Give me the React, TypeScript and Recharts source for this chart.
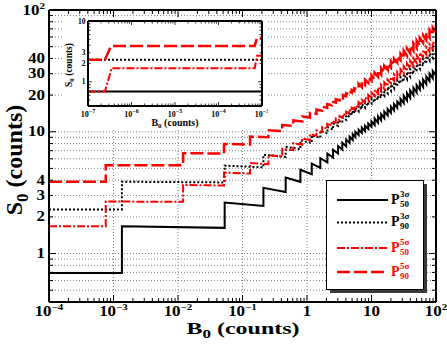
import React from 'react';
import { LineChart, Line, XAxis, YAxis, CartesianGrid, ReferenceLine } from 'recharts';

const SERIF = '"Liberation Serif", "Times New Roman", Times, serif';
const RED = '#ff0000';

// ---------------- main chart layout
const W = 447, H = 348;
const PL = 49, PR = 436, PT = 10, PB = 302;
const AX_B = 20, AX_L = 30, AX_T = 5, AX_R = 5;

// ---------------- main axis labels
const xDecades = [1e-4, 1e-3, 1e-2, 1e-1, 1, 10, 100];
const xTickBase = ['10', '10', '10', '10', '1', '10', '10'];
const xTickExp = ['\u22124', '\u22123', '\u22122', '\u22121', '', '', '2'];
const xGridValues = [1e-3, 1e-2, 1e-1, 1, 10];
const yLabelValues = [1, 2, 3, 4, 10, 20, 30, 40, 100];
const yLabelBase = ['1', '2', '3', '4', '10', '20', '30', '40', '10'];
const yLabelExp = ['', '', '', '', '', '', '', '', '2'];

// ---------------- inset axis labels
const ixDecades = [1e-7, 1e-6, 1e-5, 1e-4, 1e-3];
const ixTickExp = ['\u22127', '\u22126', '\u22125', '\u22124', '\u22123'];
const iyLabelValues = [1, 2, 3, 10];
const iyLabelText = ['1', '2', '3', '10'];

// ---------------- data: main chart (B0, S0 before step, S0 after step)
type Jump = [number, number, number];

const p50s3Start: [number, number] = [1e-4, 0.693];
const p50s3Jumps: Jump[] = [
  [0.00135, 0.692, 1.677], [0.0529, 1.625, 2.621], [0.211, 2.463, 3.461], [0.467, 3.205, 4.204],
  [0.79, 3.881, 4.88], [1.185, 4.485, 5.485], [1.61, 5.06, 6.06], [2.07, 5.599, 6.599],
  [2.54, 6.129, 7.129], [3.03, 6.638, 7.638], [3.53, 7.138, 8.138], [4.05, 7.618, 8.618],
  [4.58, 8.088, 9.088], [5.12, 8.548, 9.548], [5.62, 9.03, 9.98], [6.31, 9.41, 10.4],
  [7.08, 9.79, 10.82], [7.94, 10.12, 11.18], [8.91, 10.55, 11.66], [10.0, 11.02, 12.18],
  [11.2, 11.37, 12.83], [12.6, 11.89, 13.41], [14.1, 12.41, 13.99], [15.8, 12.97, 14.63],
  [17.8, 13.63, 15.37], [20.0, 14.29, 16.11], [22.4, 14.99, 16.91], [25.1, 15.7, 17.7],
  [28.2, 16.54, 18.66], [31.6, 17.16, 19.74], [35.5, 18.04, 20.76], [39.8, 18.97, 21.83],
  [44.7, 20.0, 23.0], [50.1, 21.02, 24.18], [56.2, 22.18, 25.52], [63.1, 23.34, 26.86],
  [70.8, 24.65, 28.36], [79.4, 26.04, 29.96], [89.1, 27.44, 31.57], [100, 29.02, 33.38],
];

const p90s3Start: [number, number] = [1e-4, 2.303];
const p90s3Jumps: Jump[] = [
  [0.00135, 2.302, 3.889], [0.0529, 3.837, 5.269], [0.211, 5.111, 6.47], [0.467, 6.214, 7.527],
  [0.79, 7.204, 8.485], [1.185, 8.09, 9.347], [1.61, 8.922, 10.161], [2.07, 9.701, 10.925],
  [2.54, 10.455, 11.666], [3.03, 11.176, 12.377], [3.53, 11.877, 13.068], [4.05, 12.548, 13.732],
  [4.58, 13.202, 14.378], [5.12, 13.838, 15.008], [5.62, 14.25, 15.75], [6.31, 14.73, 16.28],
  [7.08, 15.25, 16.85], [7.94, 15.77, 17.43], [8.91, 16.34, 18.06], [10.0, 17.05, 18.85],
  [11.2, 17.48, 19.72], [12.6, 18.28, 20.62], [14.1, 18.99, 21.41], [15.8, 19.83, 22.37],
  [17.8, 20.73, 23.37], [20.0, 21.67, 24.43], [22.4, 22.65, 25.55], [25.1, 23.69, 26.71],
  [28.2, 24.91, 28.09], [31.6, 25.76, 29.64], [35.5, 27.02, 31.08], [39.8, 28.32, 32.58],
  [44.7, 29.81, 34.29], [50.1, 31.29, 36.01], [56.2, 32.92, 37.88], [63.1, 34.6, 39.8],
  [70.8, 36.41, 41.89], [79.4, 38.41, 44.19], [89.1, 40.46, 46.55], [100, 42.69, 49.11],
];

const p50s5Start: [number, number] = [1e-4, 1.678];
const p50s5Jumps: Jump[] = [
  [0.000758, 1.677, 2.673], [0.012, 2.662, 3.66], [0.0517, 3.62, 4.619], [0.131, 4.54, 5.539],
  [0.252, 5.418, 6.418], [0.413, 6.257, 7.256], [0.613, 7.056, 8.056], [0.846, 7.823, 8.823],
  [1.11, 8.559, 9.559], [1.402, 9.267, 10.266], [1.717, 9.951, 10.951], [2.055, 10.613, 11.613],
  [2.417, 11.251, 12.251], [2.797, 11.871, 12.871], [3.193, 12.475, 13.475], [3.61, 13.058, 14.058],
  [4.039, 13.629, 14.629], [4.481, 14.187, 15.187], [4.935, 14.733, 15.733], [5.406, 15.262, 16.262],
  [6.31, 15.89, 17.57], [7.08, 16.6, 18.34], [7.94, 17.35, 19.17], [8.91, 18.14, 20.04],
  [10.0, 18.98, 20.98], [11.2, 19.65, 22.15], [12.6, 20.6, 23.24], [14.1, 21.56, 24.32],
  [15.8, 22.6, 25.48], [17.8, 23.74, 26.78], [20.0, 24.94, 28.12], [22.4, 26.16, 29.5],
  [25.1, 27.47, 30.97], [28.2, 28.88, 32.56], [31.6, 30.02, 34.54], [35.5, 31.58, 36.34],
  [39.8, 33.21, 38.21], [44.7, 34.97, 40.23], [50.1, 36.79, 42.33], [56.2, 38.73, 44.57],
  [63.1, 40.82, 46.96], [70.8, 43.0, 49.48], [79.4, 45.31, 52.13], [89.1, 47.77, 54.97],
  [100, 50.38, 57.96],
];

const p90s5Start: [number, number] = [1e-4, 3.89];
const p90s5Jumps: Jump[] = [
  [0.000758, 3.889, 5.321], [0.012, 5.31, 6.669], [0.0517, 6.629, 7.942], [0.131, 7.863, 9.144],
  [0.252, 9.023, 10.28], [0.413, 10.119, 11.358], [0.613, 11.158, 12.382], [0.846, 12.149, 13.36],
  [1.11, 13.096, 14.297], [1.402, 14.005, 15.196], [1.717, 14.881, 16.065], [2.055, 15.727, 16.903],
  [2.417, 16.541, 17.711], [2.797, 17.331, 18.495], [3.193, 18.099, 19.259], [3.61, 18.842, 19.996],
  [4.039, 19.567, 20.717], [4.481, 20.275, 21.422], [4.935, 20.968, 22.11], [5.406, 21.639, 22.778],
  [6.31, 22.37, 24.73], [7.08, 23.26, 25.7], [7.94, 24.21, 26.75], [8.91, 25.2, 27.86],
  [10.0, 26.28, 29.04], [11.2, 27.09, 30.55], [12.6, 28.3, 31.92], [14.1, 29.51, 33.27],
  [15.8, 30.81, 34.75], [17.8, 32.26, 36.38], [20.0, 33.76, 38.08], [22.4, 35.31, 39.81],
  [25.1, 36.95, 41.67], [28.2, 38.73, 43.67], [31.6, 40.15, 46.19], [35.5, 42.11, 48.45],
  [39.8, 44.17, 50.81], [44.7, 46.38, 53.36], [50.1, 48.67, 55.99], [56.2, 51.11, 58.81],
  [63.1, 53.74, 61.82], [70.8, 56.49, 64.99], [79.4, 59.39, 68.33], [89.1, 62.49, 71.89],
  [100, 65.76, 75.66],
];

// ---------------- data: inset (B0, S0)
const inP50s3: [number, number][] = [[1e-7, 0.693], [1e-3, 0.693]];
const inP90s3: [number, number][] = [[1e-7, 2.303], [1e-3, 2.303]];
const inP50s5: [number, number][] = [[1e-7, 0.693], [2.45e-7, 0.693], [3.5e-7, 1.678], [6.8e-4, 1.677], [7.7e-4, 2.673], [1e-3, 2.672]];
const inP90s5: [number, number][] = [[1e-7, 2.303], [2.45e-7, 2.303], [3.4e-7, 3.89], [6.8e-4, 3.889], [7.7e-4, 5.321], [1e-3, 5.321]];

// ---------------- helpers
const buildSteps = (start: [number, number], jumps: Jump[]) => [
  { x: start[0], y: start[1] },
  ...jumps.flatMap(([b, before, after]) => [{ x: b, y: before }, { x: b, y: after }]),
];
const toPts = (arr: [number, number][]) => arr.map(([x, y]) => ({ x, y }));

function logTicks(minExp: number, maxExp: number, lo: number, hi: number): number[] {
  const out: number[] = [];
  for (let e = minExp; e <= maxExp; e++) {
    for (let k = 1; k <= 9; k++) {
      const v = k * Math.pow(10, e);
      if (v >= lo * (1 - 1e-9) && v <= hi * (1 + 1e-9)) out.push(v);
    }
  }
  return out;
}
const isDecade = (v: number) => Math.abs(Math.log10(v) - Math.round(Math.log10(v))) < 1e-6;
const findIdx = (arr: number[], v: number) => arr.findIndex((a) => Math.abs(a - v) / a < 1e-6);

const mainXTicks = logTicks(-4, 2, 1e-4, 100);
const mainYTicks = logTicks(-1, 2, 0.5, 100);
const inXTicks = logTicks(-7, -3, 1e-7, 1e-3);
const inYTicks = logTicks(-1, 1, 0.5, 10);

const SText = (p: any) => (
  <g transform={`translate(${p.x},${p.y}) scale(1,${p.sy ?? 1})`}>
    <text x={0} y={0} textAnchor={p.anchor} fontFamily={SERIF} fontWeight="bold" fontSize={p.size} fill={p.fill ?? '#000'}>
      {p.children}
    </text>
  </g>
);

// ---------------- main ticks
const MainBottomTick = (p: any) => {
  const x = p.x;
  const v = p.payload.value;
  const i = findIdx(xDecades, v);
  return (
    <g>
      <line x1={x} x2={x} y1={PB} y2={PB - (isDecade(v) ? 7 : 4)} stroke="#000" strokeWidth={1} />
      {i >= 0 && (
        <SText x={x} y={PB + 13.5} sy={0.8} anchor="middle" size={17}>
          {xTickBase[i]}
          {xTickExp[i] && <tspan fontSize={11} dy={-7}>{xTickExp[i]}</tspan>}
        </SText>
      )}
    </g>
  );
};
const MainTopTick = (p: any) => {
  const x = p.x;
  const v = p.payload.value;
  return <line x1={x} x2={x} y1={PT} y2={PT + (isDecade(v) ? 7 : 4)} stroke="#000" strokeWidth={1} />;
};
const MainLeftTick = (p: any) => {
  const y = p.y;
  const v = p.payload.value;
  const i = findIdx(yLabelValues, v);
  return (
    <g>
      <line x1={PL} x2={PL + (isDecade(v) ? 7 : 4)} y1={y} y2={y} stroke="#000" strokeWidth={1} />
      {i >= 0 && (
        <SText x={PL - 4} y={y + 4.6} sy={0.82} anchor="end" size={17}>
          {yLabelBase[i]}
          {yLabelExp[i] && <tspan fontSize={11} dy={-7}>{yLabelExp[i]}</tspan>}
        </SText>
      )}
    </g>
  );
};
const MainRightTick = (p: any) => {
  const y = p.y;
  const v = p.payload.value;
  return <line x1={PR} x2={PR - (isDecade(v) ? 7 : 4)} y1={y} y2={y} stroke="#000" strokeWidth={1} />;
};

// ---------------- inset layout
const IW = 206, IH = 113;
const IPL = 26, IPR = 200, IPT = 4, IPB = 89;
const IAX_B = 10, IAX_L = 10, IAX_T = 2, IAX_R = 2;

const InBottomTick = (p: any) => {
  const x = p.x;
  const v = p.payload.value;
  const i = findIdx(ixDecades, v);
  return (
    <g>
      <line x1={x} x2={x} y1={IPB} y2={IPB - (isDecade(v) ? 4 : 2.5)} stroke="#000" strokeWidth={0.8} />
      {i >= 0 && (
        <SText x={x} y={IPB + 10.5} anchor="middle" size={8}>
          10<tspan fontSize={6} dy={-3.5}>{ixTickExp[i]}</tspan>
        </SText>
      )}
    </g>
  );
};
const InTopTick = (p: any) => {
  const x = p.x;
  const v = p.payload.value;
  return <line x1={x} x2={x} y1={IPT} y2={IPT + (isDecade(v) ? 4 : 2.5)} stroke="#000" strokeWidth={0.8} />;
};
const InLeftTick = (p: any) => {
  const y = p.y;
  const v = p.payload.value;
  const i = findIdx(iyLabelValues, v);
  return (
    <g>
      <line x1={IPL} x2={IPL + (isDecade(v) ? 4 : 2.5)} y1={y} y2={y} stroke="#000" strokeWidth={0.8} />
      {i >= 0 && (
        <SText x={IPL - 2.5} y={y + 2.6} anchor="end" size={7.5}>
          {iyLabelText[i]}
        </SText>
      )}
    </g>
  );
};
const InRightTick = (p: any) => {
  const y = p.y;
  const v = p.payload.value;
  return <line x1={IPR} x2={IPR - (isDecade(v) ? 4 : 2.5)} y1={y} y2={y} stroke="#000" strokeWidth={0.8} />;
};

// ---------------- series
const series = [
  { key: 'p50s3', main: buildSteps(p50s3Start, p50s3Jumps), inset: toPts(inP50s3), stroke: '#000', width: 2, dash: undefined as string | undefined },
  { key: 'p90s3', main: buildSteps(p90s3Start, p90s3Jumps), inset: toPts(inP90s3), stroke: '#000', width: 2, dash: '2 2' },
  { key: 'p50s5', main: buildSteps(p50s5Start, p50s5Jumps), inset: toPts(inP50s5), stroke: RED, width: 2, dash: '8 2 2 2' },
  { key: 'p90s5', main: buildSteps(p90s5Start, p90s5Jumps), inset: toPts(inP90s5), stroke: RED, width: 2.5, dash: '13 4' },
];

const legendRows = [
  { sup: '3\u03c3', sub: '50', color: '#000', dash: undefined as string | undefined, width: 2, y: 200 },
  { sup: '3\u03c3', sub: '90', color: '#000', dash: '2 2', width: 2, y: 222.5 },
  { sup: '5\u03c3', sub: '50', color: RED, dash: '8 2 2 2', width: 2, y: 248 },
  { sup: '5\u03c3', sub: '90', color: RED, dash: '13 4', width: 2.5, y: 272 },
];

const frame = { stroke: '#000', strokeWidth: 2 };

export default function App() {
  return (
    <div style={{ position: 'absolute', left: 0, top: 0, width: W, height: H, background: '#fff' }}>
      <div style={{ position: 'absolute', left: 0, top: 0 }}>
        <LineChart
          width={W}
          height={H}
          margin={{ top: PT - AX_T, right: W - PR - AX_R, bottom: H - PB - AX_B, left: PL - AX_L }}
        >
          <CartesianGrid xAxisId="b" yAxisId="l" vertical={false} stroke="#808080" strokeDasharray="1 2" />
          <XAxis xAxisId="b" dataKey="x" type="number" scale="log" domain={[1e-4, 100]} allowDataOverflow ticks={mainXTicks} interval={0} height={AX_B} tickLine={false} axisLine={frame} tick={MainBottomTick} />
          <XAxis xAxisId="t" dataKey="x" orientation="top" type="number" scale="log" domain={[1e-4, 100]} allowDataOverflow ticks={mainXTicks} interval={0} height={AX_T} tickLine={false} axisLine={frame} tick={MainTopTick} />
          <YAxis yAxisId="l" type="number" scale="log" domain={[0.4, 100]} allowDataOverflow ticks={mainYTicks} interval={0} width={AX_L} tickLine={false} axisLine={frame} tick={MainLeftTick} />
          <YAxis yAxisId="r" orientation="right" type="number" scale="log" domain={[0.4, 100]} allowDataOverflow ticks={mainYTicks} interval={0} width={AX_R} tickLine={false} axisLine={frame} tick={MainRightTick} />
          {xGridValues.map((v) => (
            <ReferenceLine key={v} xAxisId="b" yAxisId="l" x={v} stroke="#808080" strokeDasharray="1 2" />
          ))}
          {series.map((s) => (
            <Line
              key={s.key}
              xAxisId="b"
              yAxisId="l"
              data={s.main}
              dataKey="y"
              type="linear"
              stroke={s.stroke}
              strokeWidth={s.width}
              strokeDasharray={s.dash}
              dot={false}
              activeDot={false}
              isAnimationActive={false}
            />
          ))}
        </LineChart>
      </div>

      <div style={{ position: 'absolute', left: 62, top: 17, width: IW, height: IH, background: '#fff' }}>
        <LineChart
          width={IW}
          height={IH}
          margin={{ top: IPT - IAX_T, right: IW - IPR - IAX_R, bottom: IH - IPB - IAX_B, left: IPL - IAX_L }}
        >
          <XAxis xAxisId="ib" dataKey="x" type="number" scale="log" domain={[1e-7, 1e-3]} allowDataOverflow ticks={inXTicks} interval={0} height={IAX_B} tickLine={false} axisLine={frame} tick={InBottomTick} />
          <XAxis xAxisId="it" dataKey="x" orientation="top" type="number" scale="log" domain={[1e-7, 1e-3]} allowDataOverflow ticks={inXTicks} interval={0} height={IAX_T} tickLine={false} axisLine={frame} tick={InTopTick} />
          <YAxis yAxisId="il" type="number" scale="log" domain={[0.4, 10]} allowDataOverflow ticks={inYTicks} interval={0} width={IAX_L} tickLine={false} axisLine={frame} tick={InLeftTick} />
          <YAxis yAxisId="ir" orientation="right" type="number" scale="log" domain={[0.4, 10]} allowDataOverflow ticks={inYTicks} interval={0} width={IAX_R} tickLine={false} axisLine={frame} tick={InRightTick} />
          {series.map((s) => (
            <Line
              key={s.key}
              xAxisId="ib"
              yAxisId="il"
              data={s.inset}
              dataKey="y"
              type="linear"
              stroke={s.stroke}
              strokeWidth={s.width}
              strokeDasharray={s.dash}
              dot={false}
              activeDot={false}
              isAnimationActive={false}
            />
          ))}
        </LineChart>
        <svg width={IW} height={IH} style={{ position: 'absolute', left: 0, top: 0, pointerEvents: 'none' }}>
          <text x={113} y={109} textAnchor="middle" fontFamily={SERIF} fontWeight="bold" fontSize={10}>
            B<tspan fontSize={7} dy={2}>0</tspan>
            <tspan dy={-2}> (counts)</tspan>
          </text>
          <text transform="translate(10,48) rotate(-90)" textAnchor="middle" fontFamily={SERIF} fontWeight="bold" fontSize={9.5}>
            S<tspan fontSize={7} dy={2}>0</tspan>
            <tspan dy={-2}> (counts)</tspan>
          </text>
        </svg>
      </div>

      <svg width={W} height={H} style={{ position: 'absolute', left: 0, top: 0, pointerEvents: 'none' }}>
        <SText x={243} y={334} sy={0.72} anchor="middle" size={24}>
          B<tspan fontSize={17} dy={6}>0</tspan>
          <tspan dy={-6}> (counts)</tspan>
        </SText>
        <text transform="translate(22,160) rotate(-90)" textAnchor="middle" fontFamily={SERIF} fontWeight="bold" fontSize={24}>
          S<tspan fontSize={17} dy={6}>0</tspan>
          <tspan dy={-6}> (counts)</tspan>
        </text>

        <rect x={330} y={184} width={97} height={109} fill="#3a3a3a" />
        <rect x={326.5} y={180.5} width={97} height={109} fill="#fff" stroke="#000" strokeWidth={1} />
        {legendRows.map((r, i) => (
          <g key={i}>
            <line x1={337} x2={388} y1={r.y} y2={r.y} stroke={r.color} strokeWidth={r.width} strokeDasharray={r.dash} />
            <text x={391} y={r.y + 3.5} fontFamily={SERIF} fontWeight="bold" fontSize={14} fill={r.color}>P</text>
            <text x={400} y={r.y - 3.3} fontFamily={SERIF} fontWeight="bold" fontSize={9} fill={r.color}>{r.sup}</text>
            <text x={400} y={r.y + 6.7} fontFamily={SERIF} fontWeight="bold" fontSize={9} fill={r.color}>{r.sub}</text>
          </g>
        ))}
      </svg>
    </div>
  );
}
